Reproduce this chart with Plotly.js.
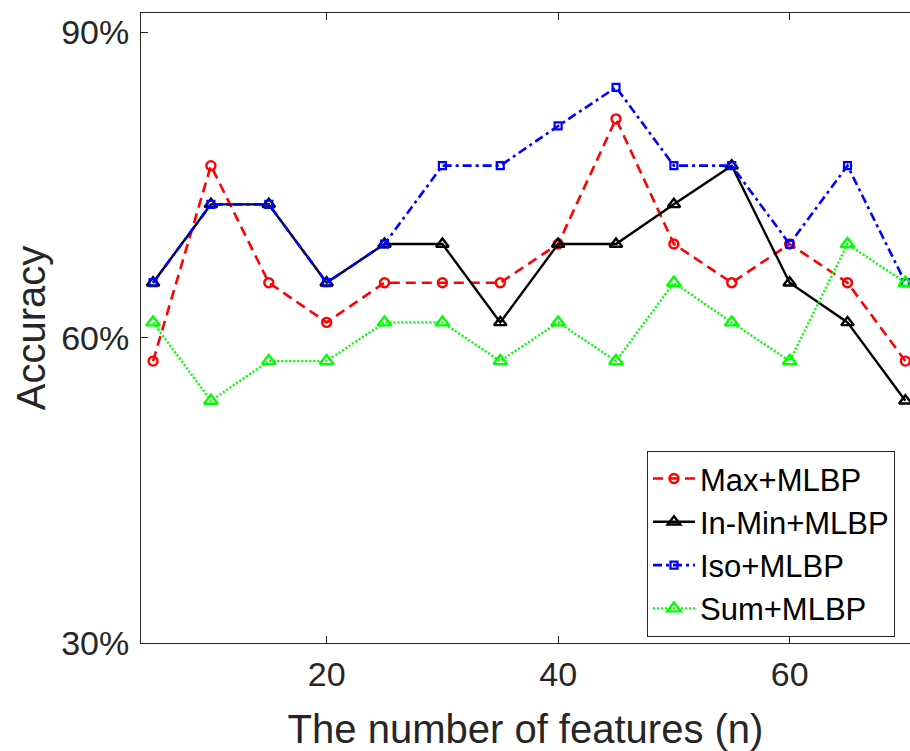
<!DOCTYPE html>
<html>
<head>
<meta charset="utf-8">
<script src="https://cdn.plot.ly/plotly-3.0.1.min.js"></script>
<style>
  html, body { margin: 0; padding: 0; background: #ffffff; overflow: hidden; }
  #chart { width: 910px; height: 751px; }
</style>
</head>
<body>
<div id="chart"></div>
<script>
// Number of features
const features = [5, 10, 15, 20, 25, 30, 35, 40, 45, 50, 55, 60, 65, 70];

// Accuracy (%) per method
const maxMLBP   = [57.7, 76.9, 65.4, 61.5, 65.4, 65.4, 65.4, 69.2, 81.5, 69.2, 65.4, 69.2, 65.4, 57.7];
const inMinMLBP = [65.4, 73.1, 73.1, 65.4, 69.2, 69.2, 61.5, 69.2, 69.2, 73.1, 76.9, 65.4, 61.5, 53.8];
const isoMLBP   = [65.4, 73.1, 73.1, 65.4, 69.2, 76.9, 76.9, 80.8, 84.6, 76.9, 76.9, 69.2, 76.9, 65.4];
const sumMLBP   = [61.5, 53.8, 57.7, 57.7, 61.5, 61.5, 57.7, 61.5, 57.7, 65.4, 61.5, 57.7, 69.2, 65.4];

const seriesNames = ["Max+MLBP", "In-Min+MLBP", "Iso+MLBP", "Sum+MLBP"];
const xTicks = [20, 40, 60];
const yTicks = [30, 60, 90];
const yTickText = ["30%", "60%", "90%"];

const textColor = "#262626";
const fontFam = "Liberation Sans, Arial, Helvetica, sans-serif";

const traces = [
  {
    x: features, y: maxMLBP, name: seriesNames[0], mode: "lines+markers",
    line: { color: "#FF0000", width: 2.6, dash: "10px,6px" },
    marker: { symbol: "circle-open", size: 9, color: "#FF0000", line: { width: 2.4, color: "#FF0000" } }
  },
  {
    x: features, y: inMinMLBP, name: seriesNames[1], mode: "lines+markers",
    line: { color: "#000000", width: 2.4 },
    marker: { symbol: "triangle-up-open", size: 11, color: "#000000", line: { width: 2.4, color: "#000000" } }
  },
  {
    x: features, y: isoMLBP, name: seriesNames[2], mode: "lines+markers",
    line: { color: "#0000FF", width: 2.6, dash: "9px,4px,3px,4px" },
    marker: { symbol: "square-open", size: 7, color: "#0000FF", line: { width: 2.2, color: "#0000FF" } }
  },
  {
    x: features, y: sumMLBP, name: seriesNames[3], mode: "lines+markers",
    line: { color: "#00FF00", width: 2.4, dash: "2px,2px" },
    marker: { symbol: "triangle-up-open", size: 12, color: "#00FF00", line: { width: 2.4, color: "#00FF00" } }
  }
];

const layout = {
  width: 910,
  height: 751,
  paper_bgcolor: "#ffffff",
  plot_bgcolor: "#ffffff",
  font: { family: fontFam, color: textColor },
  margin: { l: 141, r: 0, t: 13, b: 108, pad: 0 },
  showlegend: true,
  legend: {
    x: 0.658, y: 0.305, xanchor: "left", yanchor: "top",
    bgcolor: "#ffffff", bordercolor: "#262626", borderwidth: 1,
    font: { family: fontFam, size: 31, color: "#000000" },
    itemwidth: 42, tracegroupgap: 0
  },
  xaxis: {
    range: [3.96, 70.4],
    tickmode: "array", tickvals: xTicks, ticktext: xTicks.map(String),
    ticks: "inside", ticklen: 7, tickwidth: 1, tickcolor: textColor,
    showline: true, linecolor: textColor, linewidth: 1, mirror: "ticks",
    showgrid: false, zeroline: false,
    tickfont: { family: fontFam, size: 34, color: textColor },
    ticklabelstandoff: 1,
    title: { text: "The number of features (n)", font: { family: fontFam, size: 40, color: textColor }, standoff: 24 },
    automargin: false
  },
  yaxis: {
    range: [30, 91.9],
    tickmode: "array", tickvals: yTicks, ticktext: yTickText,
    ticks: "inside", ticklen: 7, tickwidth: 1, tickcolor: textColor,
    showline: true, linecolor: textColor, linewidth: 1, mirror: false,
    showgrid: false, zeroline: false,
    tickfont: { family: fontFam, size: 34, color: textColor },
    ticklabelstandoff: 4,
    title: { text: "Accuracy", font: { family: fontFam, size: 40, color: textColor }, standoff: 3 },
    automargin: false
  }
};

Plotly.newPlot("chart", traces, layout, { displayModeBar: false, staticPlot: true });
</script>
</body>
</html>
